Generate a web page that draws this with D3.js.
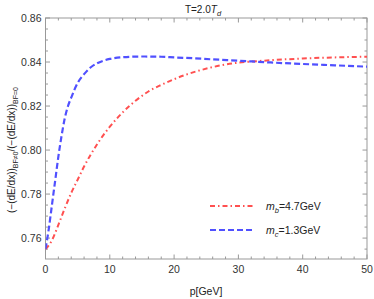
<!DOCTYPE html>
<html>
<head>
<meta charset="utf-8">
<script src="https://cdn.jsdelivr.net/npm/d3@7"></script>
<style>
  body { margin: 0; background: #fff; }
  text { font-family: "Liberation Sans", Arial, sans-serif; }
</style>
</head>
<body>
<div class="canvas"></div>
<script>
// values
const pB = [0, 1, 2, 3, 4, 5, 6, 7, 8, 9, 10, 11, 12, 13, 14, 16, 18, 20, 22, 24, 26, 28, 30, 33, 36, 40, 45, 50];
const bottomQuark = [0.755, 0.759, 0.766, 0.7735, 0.7805, 0.7865, 0.7925, 0.7978, 0.8025, 0.8068, 0.8106,
  0.814, 0.8171, 0.8199, 0.8224, 0.8266, 0.8296, 0.8322, 0.8344, 0.8362, 0.8377, 0.8389, 0.8397,
  0.8404, 0.841, 0.8416, 0.8421, 0.8424];
const pC = [0, 0.5, 1, 1.5, 2, 2.5, 3, 3.5, 4, 5, 6, 7, 8, 9, 10, 12, 15, 18, 20, 23, 26, 30, 35, 40, 45, 50];
const charmQuark = [0.755, 0.764, 0.775, 0.786, 0.797, 0.8065, 0.8145, 0.82, 0.8238, 0.8305, 0.8345, 0.8375,
  0.8394, 0.8406, 0.8414, 0.8422, 0.8425, 0.8424, 0.8421, 0.8417, 0.8412, 0.8406, 0.8398, 0.8391,
  0.8385, 0.8379];
const xTicks = [0, 10, 20, 30, 40, 50];
const yTicks = [0.76, 0.78, 0.80, 0.82, 0.84, 0.86];

const svg = d3.select(".canvas").append("svg")
    .attr("width", 374)
    .attr("height", 299);

const plotL = 45.5, plotR = 367, plotT = 18, plotB = 259;

const x = d3.scaleLinear().domain([0, 50]).range([plotL, plotR]);
const y = d3.scaleLinear().domain([0.7505, 0.86]).range([plotB, plotT]);

const frameColor = "#999";

// frame
svg.append("rect")
    .attr("x", plotL).attr("y", plotT)
    .attr("width", plotR - plotL).attr("height", plotB - plotT)
    .attr("fill", "none").attr("stroke", frameColor).attr("stroke-width", 1);

// ticks (inward, all four sides)
const xMinor = d3.range(0, 50.01, 2);
const yMinor = d3.range(0.755, 0.8601, 0.005);

const ticks = svg.append("g").attr("stroke", frameColor).attr("stroke-width", 1);
xMinor.forEach(v => {
  const major = xTicks.some(t => Math.abs(t - v) < 1e-6);
  const len = major ? 4.5 : 2.5;
  ticks.append("line").attr("x1", x(v)).attr("x2", x(v)).attr("y1", plotB).attr("y2", plotB - len);
  ticks.append("line").attr("x1", x(v)).attr("x2", x(v)).attr("y1", plotT).attr("y2", plotT + len);
});
yMinor.forEach(v => {
  const major = yTicks.some(t => Math.abs(t - v) < 1e-6);
  const len = major ? 4.5 : 2.5;
  ticks.append("line").attr("y1", y(v)).attr("y2", y(v)).attr("x1", plotL).attr("x2", plotL + len);
  ticks.append("line").attr("y1", y(v)).attr("y2", y(v)).attr("x1", plotR).attr("x2", plotR - len);
});

// tick labels
svg.append("g").selectAll("text").data(xTicks).join("text")
    .attr("x", d => x(d)).attr("y", plotB + 14)
    .attr("text-anchor", "middle")
    .attr("font-size", 10.5).attr("fill", "#333")
    .text(d => d);

svg.append("g").selectAll("text").data(yTicks).join("text")
    .attr("x", plotL - 4).attr("y", d => y(d) + 3.8)
    .attr("text-anchor", "end")
    .attr("font-size", 10.5).attr("fill", "#333")
    .text(d => d.toFixed(2));

// curves
const line = d3.line().x(d => x(d[0])).y(d => y(d[1])).curve(d3.curveMonotoneX);

svg.append("clipPath").attr("id", "plot")
  .append("rect").attr("x", plotL).attr("y", plotT).attr("width", plotR - plotL).attr("height", plotB - plotT);

svg.append("path")
    .datum(pB.map((p, i) => [p, bottomQuark[i]]))
    .attr("d", line)
    .attr("clip-path", "url(#plot)")
    .attr("fill", "none").attr("stroke", "#ff5050").attr("stroke-width", 2)
    .attr("stroke-dasharray", "5,3,1.5,3");

svg.append("path")
    .datum(pC.map((p, i) => [p, charmQuark[i]]))
    .attr("d", line)
    .attr("clip-path", "url(#plot)")
    .attr("fill", "none").attr("stroke", "#5050ff").attr("stroke-width", 2.2)
    .attr("stroke-dasharray", "6,3");

// legend
const legend = [
  { sub: "b", val: "=4.7GeV", color: "#ff5050", dash: "5,3,1.5,3", yy: 206 },
  { sub: "c", val: "=1.3GeV", color: "#5050ff", dash: "6,3", yy: 230 }
];
legend.forEach(l => {
  svg.append("line")
      .attr("x1", 210).attr("x2", 255).attr("y1", l.yy).attr("y2", l.yy)
      .attr("stroke", l.color).attr("stroke-width", 2).attr("stroke-dasharray", l.dash);
  const t = svg.append("text").attr("x", 266).attr("y", l.yy + 4)
      .attr("font-size", 10.5).attr("fill", "#222");
  t.append("tspan").attr("font-style", "italic").text("m");
  t.append("tspan").attr("font-size", 7.5).attr("dy", 2.5).attr("font-style", "italic").text(l.sub);
  t.append("tspan").attr("dy", -2.5).text(l.val);
});

// title
const title = svg.append("text").attr("x", 203).attr("y", 13)
    .attr("text-anchor", "middle").attr("font-size", 10).attr("fill", "#222");
title.append("tspan").text("T=2.0");
title.append("tspan").attr("font-style", "italic").text("T");
title.append("tspan").attr("font-style", "italic").attr("font-size", 7.5).attr("dy", 2.5).text("d");

// axis labels
svg.append("text")
    .attr("x", 206).attr("y", 295)
    .attr("text-anchor", "middle").attr("font-size", 10.5).attr("fill", "#222")
    .text("p[GeV]");

const yl = svg.append("text")
    .attr("transform", "translate(15,150) rotate(-90)")
    .attr("text-anchor", "middle").attr("font-size", 10).attr("fill", "#222");
yl.append("tspan").text("(\u2212(dE/dx))");
yl.append("tspan").attr("font-size", 7).attr("dy", 2.5).text("BF\u22600");
yl.append("tspan").attr("dy", -2.5).text("/(\u2212(dE/dx))");
yl.append("tspan").attr("font-size", 7).attr("dy", 2.5).text("BF=0");
</script>
</body>
</html>
